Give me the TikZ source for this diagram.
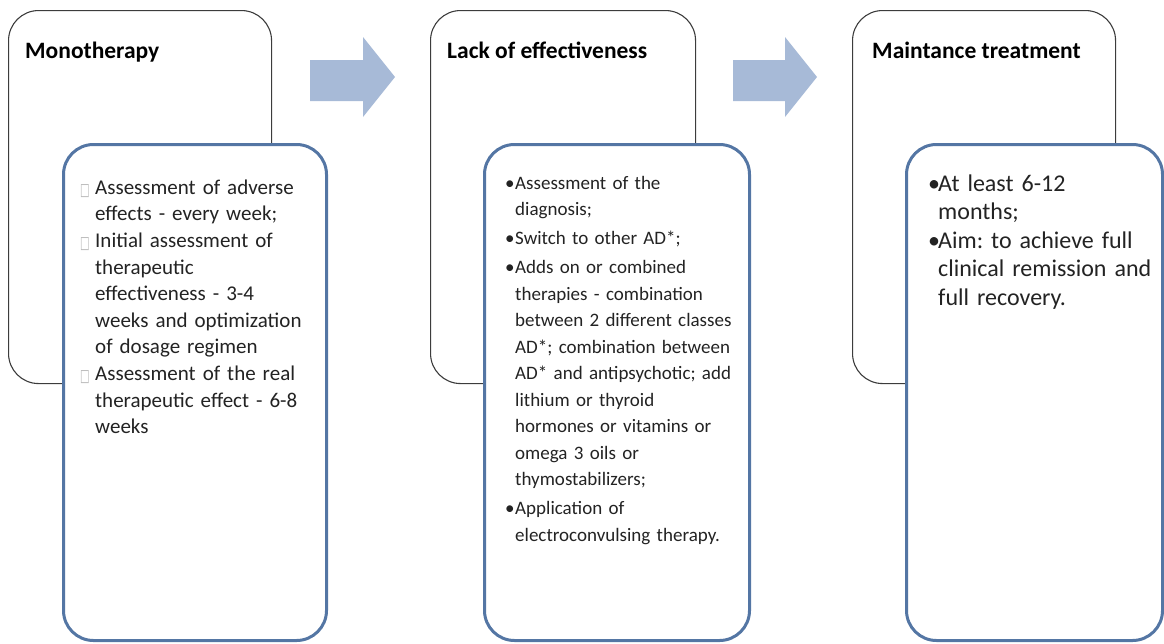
\documentclass[tikz,border=0pt]{standalone}
\usepackage{graphicx}
\usepackage{fontspec}
\setmainfont{Carlito}
\newfontfamily\djv{DejaVu Sans}
\definecolor{innerblue}{RGB}{84,118,164}
\definecolor{arrowblue}{RGB}{167,186,215}
\definecolor{outergray}{RGB}{60,60,60}
\definecolor{txt}{RGB}{35,35,35}
\frenchspacing
\newcommand\itm[2]{\hangindent=#1\hangafter=1\noindent\makebox[#1][l]{#2}}
\newcommand\sqb{{\djv\fontsize{17}{17}\selectfont\color{gray!55}\raisebox{-1pt}{\scalebox{0.6}[1]{□}}}}
\begin{document}
\begin{tikzpicture}[x=1pt,y=-1pt,
  outerbox/.style={draw=outergray,line width=1.1pt,rounded corners=30pt,anchor=north west,inner sep=0pt,fill=white},
  innerbox/.style={draw=innerblue,line width=3pt,rounded corners=30pt,anchor=north west,inner sep=0pt,fill=white},
  title/.style={anchor=base west,inner sep=0pt,font=\fontsize{23.5}{26}\selectfont\bfseries,text=black},
  body/.style={anchor=base west,inner sep=0pt,align=left,text=txt},
  blockarrow/.style={fill=arrowblue}]
\useasboundingbox (0,0) rectangle (1164,643);

% outer boxes
\node[outerbox,minimum width=263pt,minimum height=373pt] (o1) at (8,10) {};
\node[outerbox,minimum width=265pt,minimum height=373pt] (o2) at (430,10) {};
\node[outerbox,minimum width=263pt,minimum height=373pt] (o3) at (852,10) {};

% titles
\node[title] (h1) at (25,58) {Monotherapy};
\node[title] (h2) at (447,58) {Lack of effectiveness};
\node[title] (h3) at (872,58) {Maintance treatment};

% block arrows
\fill[blockarrow] (310,60) -- (363,60) -- (363,37) -- (395,77) -- (363,117) -- (363,101) -- (310,101) -- cycle;
\fill[blockarrow] (733,60) -- (785,60) -- (785,37) -- (817,77) -- (785,117) -- (785,101) -- (733,101) -- cycle;

% inner boxes
\node[innerbox,minimum width=263pt,minimum height=496pt] (i1) at (62,143) {};
\node[innerbox,minimum width=265pt,minimum height=496pt] (i2) at (483,143) {};
\node[innerbox,minimum width=256pt,minimum height=496pt] (i3) at (905,143) {};

% texts
\node[body,text width=240pt,font=\fontsize{21}{26.5}\selectfont] (t1) at (80,194) {%
\setlength\parskip{0.5pt}%
\itm{15pt}{\sqb}Assessment of adverse\newline effects - every week;\par
\itm{15pt}{\sqb}Initial assessment of\newline therapeutic\newline effectiveness - 3-4\newline weeks and optimization\newline of dosage regimen\par
\itm{15pt}{\sqb}Assessment of the real\newline therapeutic effect - 6-8\newline weeks\par};

\node[body,text width=240pt,font=\fontsize{19}{26.5}\selectfont] (t2) at (505,189) {%
\setlength\parskip{2.5pt}%
\itm{10pt}{•}Assessment of the\newline diagnosis;\par
\itm{10pt}{•}Switch to other AD*;\par
\itm{10pt}{•}Adds on or combined\newline therapies - combination\newline between 2 different classes\newline AD*; combination between\newline AD* and antipsychotic; add\newline lithium or thyroid\newline hormones or vitamins or\newline omega 3 oils or\newline thymostabilizers;\par
\itm{10pt}{•}Application of\newline electroconvulsing therapy.\par};

\node[body,text width=230pt,font=\fontsize{24}{28.5}\selectfont] (t3) at (928,191) {%
\setlength\parskip{0pt}%
\itm{10pt}{•}At least 6-12\newline months;\par
\itm{10pt}{•}Aim: to achieve full\newline clinical remission and\newline full recovery.\par};
\end{tikzpicture}
\end{document}
